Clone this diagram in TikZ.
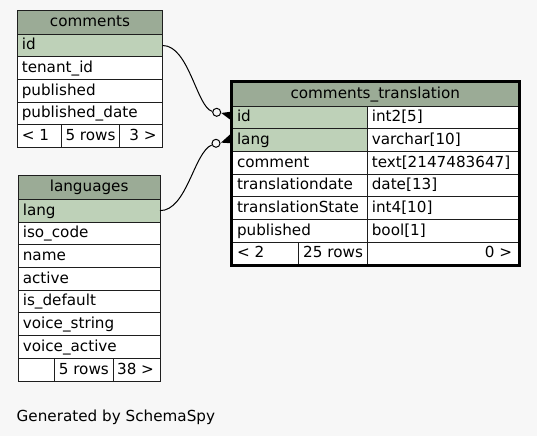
\documentclass[tikz,border=0pt]{standalone}
\usepackage{fontspec}
\setmainfont{DejaVu Sans}
\usetikzlibrary{calc}
\definecolor{bgc}{HTML}{F7F7F7}
\definecolor{hdrc}{HTML}{9BAB96}
\definecolor{pkc}{HTML}{BED1B8}
\definecolor{linec}{HTML}{1E1E1E}
\newcommand\tcell[6]{\node[cellbox, fill=#6, minimum width={#4-#2}, minimum height={#5-#3}, anchor=north west] (#1) at (#2,#3) {};}
\newcommand\ltext[2]{\node[txt, anchor=base west] (#1t) at ($(#1.south west)+(4.5,-7)$) {#2};}
\newcommand\ctext[2]{\node[txt, anchor=base] (#1t) at ($(#1.south)+(0,-7.5)$) {#2};}
\newcommand\rtext[2]{\node[txt, anchor=base east] (#1t) at ($(#1.south east)+(-6,-7)$) {#2};}
\begin{document}
\begin{tikzpicture}[x=1pt,y=-1pt,
  font=\fontsize{15.2pt}{17pt}\selectfont,
  cellbox/.style={rectangle, draw=linec, line width=0.9pt, inner sep=0pt, outer sep=0pt},
  txt/.style={inner sep=0pt, outer sep=0pt, text=black},
  odot/.style={circle, draw=black, fill=bgc, line width=1pt, minimum size=8pt, inner sep=0pt},
  edge/.style={draw=black, line width=1pt},
  crow/.style={fill=black}]
\fill[bgc] (0,0) rectangle (537,436);
\useasboundingbox (0,0) rectangle (537,436);
% comments
\tcell{ch}{17.3}{10.7}{162.7}{34.3}{hdrc}\ctext{ch}{comments}
\tcell{cid}{17.3}{34.3}{162.7}{56.7}{pkc}\ltext{cid}{id}
\tcell{ctn}{17.3}{56.7}{162.7}{79.3}{white}\ltext{ctn}{tenant\_id}
\tcell{cpub}{17.3}{79.3}{162.7}{102.3}{white}\ltext{cpub}{published}
\tcell{cpd}{17.3}{102.3}{162.7}{124.7}{white}\ltext{cpd}{published\_date}
\tcell{cfa}{17.3}{124.7}{61}{147.7}{white}\ltext{cfa}{< 1}
\tcell{cfb}{61}{124.7}{119.3}{147.7}{white}\ltext{cfb}{5 rows}
\tcell{cfc}{119.3}{124.7}{162.7}{147.7}{white}\rtext{cfc}{3 >}
% languages
\tcell{lh}{18.3}{175.7}{160}{199.3}{hdrc}\ctext{lh}{languages}
\tcell{llang}{18.3}{199.3}{160}{222}{pkc}\ltext{llang}{lang}
\tcell{liso}{18.3}{222}{160}{244.7}{white}\ltext{liso}{iso\_code}
\tcell{lname}{18.3}{244.7}{160}{267.3}{white}\ltext{lname}{name}
\tcell{lact}{18.3}{267.3}{160}{290}{white}\ltext{lact}{active}
\tcell{ldef}{18.3}{290}{160}{312.7}{white}\ltext{ldef}{is\_default}
\tcell{lvs}{18.3}{312.7}{160}{335.3}{white}\ltext{lvs}{voice\_string}
\tcell{lva}{18.3}{335.3}{160}{358}{white}\ltext{lva}{voice\_active}
\tcell{lfa}{18.3}{358}{54.3}{381}{white}
\tcell{lfb}{54.3}{358}{113.3}{381}{white}\ltext{lfb}{5 rows}
\tcell{lfc}{113.3}{358}{160}{381}{white}\rtext{lfc}{38 >}
% comments_translation
\tcell{th}{232.5}{82.7}{518}{106}{hdrc}\ctext{th}{comments\_translation}
\tcell{tid}{232.5}{106}{367.3}{128.7}{pkc}\ltext{tid}{id}
\tcell{tidy}{367.3}{106}{518}{128.7}{white}\ltext{tidy}{int2[5]}
\tcell{tlang}{232.5}{128.7}{367.3}{151.3}{pkc}\ltext{tlang}{lang}
\tcell{tlangy}{367.3}{128.7}{518}{151.3}{white}\ltext{tlangy}{varchar[10]}
\tcell{tcom}{232.5}{151.3}{367.3}{174}{white}\ltext{tcom}{comment}
\tcell{tcomy}{367.3}{151.3}{518}{174}{white}\ltext{tcomy}{text[2147483647]}
\tcell{tdate}{232.5}{174}{367.3}{196.7}{white}\ltext{tdate}{translationdate}
\tcell{tdatey}{367.3}{174}{518}{196.7}{white}\ltext{tdatey}{date[13]}
\tcell{tst}{232.5}{196.7}{367.3}{219.3}{white}\ltext{tst}{translationState}
\tcell{tsty}{367.3}{196.7}{518}{219.3}{white}\ltext{tsty}{int4[10]}
\tcell{tpub}{232.5}{219.3}{367.3}{242}{white}\ltext{tpub}{published}
\tcell{tpuby}{367.3}{219.3}{518}{242}{white}\ltext{tpuby}{bool[1]}
\tcell{tfa}{232.5}{242}{298.7}{264}{white}\ltext{tfa}{< 2}
\tcell{tfb}{298.7}{242}{367.3}{264}{white}\ltext{tfb}{25 rows}
\tcell{tfc}{367.3}{242}{518}{264}{white}\rtext{tfc}{0 >}
\draw[line width=2.6pt, draw=black] (231.3,81.3) rectangle (519.2,265.3);
% connectors
\node[odot] (o1) at (216.7,112.3) {};
\node[odot] (o2) at (216,143.3) {};
\coordinate (k1) at (221.3,113);
\coordinate (k2) at (221,142.6);
\draw[edge] (cid.east) .. controls (189,45.5) and (197,108) .. (o1);
\draw[edge] (llang.east) .. controls (187,210.6) and (194,152) .. (o2);
\fill[crow] (k1) -- (230,111.8) -- (230,119.5) -- cycle;
\fill[crow] (k2) -- (230,134.5) -- (230,143.2) -- cycle;
% footer text
\node[txt, anchor=base west] (gen) at (16.7,421) {Generated by SchemaSpy};
\end{tikzpicture}
\end{document}
